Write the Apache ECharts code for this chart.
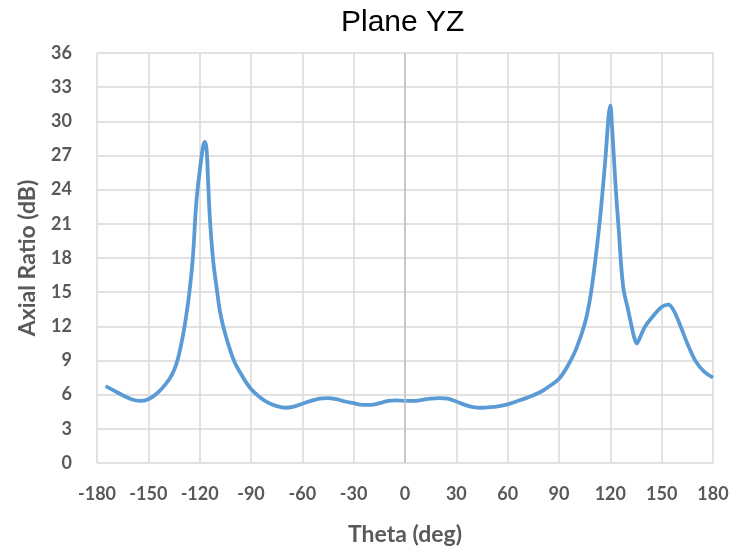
<!DOCTYPE html>
<html>
<head>
<meta charset="utf-8">
<script src="https://cdn.jsdelivr.net/npm/echarts@6/dist/echarts.min.js"></script>
<style>html,body{margin:0;padding:0;background:#fff}#c{width:746px;height:551px}</style>
</head>
<body>
<div id="c"></div>
<script>
const titleText = "Plane YZ";
const xName = "Theta (deg)";
const yName = "Axial Ratio (dB)";
const xTicks = [-180, -150, -120, -90, -60, -30, 0, 30, 60, 90, 120, 150, 180];
const yTicks = [0, 3, 6, 9, 12, 15, 18, 21, 24, 27, 30, 33, 36];
const theta = [-175,-170,-165,-160,-155,-150,-145,-140,-136,-133,-130,-128,-126,-124,-122,-120,-118,-117,-116,-115,-114,-112,-110,-108,-105,-100,-95,-90,-85,-80,-75,-70,-65,-60,-55,-50,-45,-40,-35,-30,-25,-20,-15,-10,-5,0,5,10,15,20,25,30,35,40,45,50,55,60,65,70,75,80,85,90,95,100,105,108,111,114,117,119,120,121,122,123,124,125,126,127,128,130,132,134,135.5,137,140,145,150,154,157,160,165,170,175,180];
const axialRatio = [6.75,6.35,5.95,5.6,5.45,5.6,6.1,6.9,7.8,9.0,11.0,12.8,15.0,18.0,22.8,25.6,27.8,28.2,27.6,24.5,21.4,17.6,15.3,13.2,11.3,9.0,7.6,6.5,5.8,5.3,5.0,4.85,4.95,5.2,5.45,5.65,5.7,5.6,5.4,5.25,5.1,5.1,5.25,5.45,5.5,5.45,5.45,5.55,5.65,5.7,5.65,5.4,5.1,4.9,4.85,4.9,5.0,5.15,5.4,5.65,5.95,6.3,6.8,7.4,8.5,10.0,12.2,14.3,17.5,21.5,26.5,30.5,31.4,29.5,27.0,24.5,22.3,20.3,18.0,16.2,15.0,13.7,12.3,11.0,10.5,10.9,11.9,12.9,13.7,13.9,13.4,12.4,10.5,8.9,8.0,7.5];
const seriesData = theta.map((t, i) => [t, axialRatio[i]]);
const chart = echarts.init(document.getElementById('c'));
const labelStyle = {fontFamily: 'Lato', fontWeight: 'bold', fontSize: 18, color: '#595959'};
const nameStyle = {fontFamily: 'Lato', fontWeight: 'bold', fontSize: 23, color: '#595959'};
chart.setOption({
  animation: false,
  title: {text: titleText, left: 336, top: 3, textStyle: {fontFamily: 'Liberation Sans', fontWeight: 'normal', fontSize: 30, color: '#000'}},
  grid: {left: 97, right: 33, top: 53, bottom: 87},
  xAxis: {
    type: 'value', min: xTicks[0], max: xTicks[xTicks.length - 1], interval: 30,
    name: xName, nameLocation: 'middle', nameGap: 60,
    nameTextStyle: nameStyle,
    axisLine: {show: false}, axisTick: {show: false},
    axisLabel: Object.assign({margin: 22}, labelStyle),
    splitLine: {show: true, lineStyle: {color: '#d9d9d9', width: 1.5}}
  },
  yAxis: {
    type: 'value', min: yTicks[0], max: yTicks[yTicks.length - 1], interval: 3,
    name: yName, nameLocation: 'middle', nameGap: 58,
    nameTextStyle: nameStyle,
    axisLine: {show: false}, axisTick: {show: false},
    axisLabel: Object.assign({margin: 25}, labelStyle),
    splitLine: {show: true, lineStyle: {color: '#d9d9d9', width: 1.5}}
  },
  series: [{
    type: 'line', data: seriesData, smooth: 0.35, showSymbol: false,
    lineStyle: {color: '#5b9bd5', width: 3.8},
    markLine: {silent: true, symbol: 'none', label: {show: false},
      lineStyle: {color: '#bfbfbf', width: 1.5, type: 'solid'},
      data: [{xAxis: 0}]}
  }]
});
</script>
</body>
</html>
